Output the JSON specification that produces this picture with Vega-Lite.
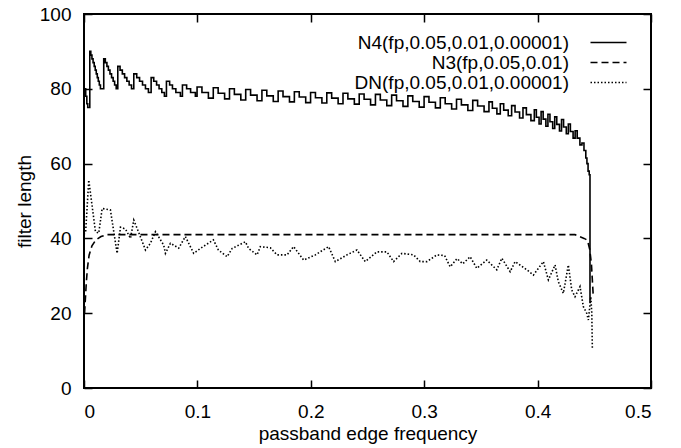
{
  "$schema": "https://vega.github.io/schema/vega-lite/v6.json",
  "width": 567,
  "height": 374,
  "autosize": {"type": "none"},
  "padding": {"left": 84, "top": 14, "right": 30, "bottom": 60},
  "background": "white",
  "config": {
    "font": "Liberation Sans",
    "view": {"stroke": "black", "strokeWidth": 2},
    "axis": {
      "grid": false,
      "domain": false,
      "tickColor": "black",
      "tickWidth": 1.5,
      "tickSize": -8,
      "labelColor": "black",
      "labelFont": "Liberation Sans",
      "labelFontSize": 19,
      "titleFont": "Liberation Sans",
      "titleFontSize": 19,
      "titleFontWeight": "normal",
      "titleColor": "black"
    },
    "legend": {
      "orient": "none",
      "legendX": 270,
      "legendY": 19,
      "padding": 0,
      "labelFont": "Liberation Sans",
      "labelFontSize": 19,
      "labelColor": "black",
      "labelAlign": "right",
      "labelLimit": 0,
      "labelOffset": -49,
      "symbolOffset": 245,
      "symbolType": "M-3.6,0H3.6",
      "symbolStrokeColor": "black",
      "symbolStrokeWidth": 1.5,
      "symbolSize": 100,
      "rowPadding": -0.5
    }
  },
  "datasets": {
    "n4": [
      {"fp":0,"len":80},{"fp":0.0015,"len":78},{"fp":0.0025,"len":76},{"fp":0.0033,"len":75},
      {"fp":0.0051,"len":90},{"fp":0.006,"len":89},{"fp":0.007,"len":88},{"fp":0.008,"len":87},{"fp":0.009,"len":86},{"fp":0.0099,"len":85},{"fp":0.0108,"len":84},{"fp":0.0117,"len":83},{"fp":0.0126,"len":82},{"fp":0.0135,"len":81},{"fp":0.0145,"len":80},
      {"fp":0.0174,"len":88},{"fp":0.0188,"len":87},{"fp":0.0202,"len":86},{"fp":0.0215,"len":85},{"fp":0.0229,"len":84},{"fp":0.0243,"len":83},{"fp":0.0257,"len":82},{"fp":0.027,"len":81},{"fp":0.0284,"len":80},
      {"fp":0.0298,"len":86},{"fp":0.0318,"len":85},{"fp":0.0338,"len":84},{"fp":0.0358,"len":83},{"fp":0.0378,"len":82},{"fp":0.0398,"len":81},{"fp":0.0419,"len":80},
      {"fp":0.0439,"len":84},{"fp":0.0465,"len":83},{"fp":0.049,"len":82},{"fp":0.0516,"len":81},{"fp":0.0542,"len":80},{"fp":0.0568,"len":79},
      {"fp":0.0592,"len":83},{"fp":0.0615,"len":82},{"fp":0.064,"len":81},{"fp":0.0662,"len":80},{"fp":0.0686,"len":79},{"fp":0.0709,"len":78},
      {"fp":0.0727,"len":82},{"fp":0.0755,"len":81},{"fp":0.078,"len":80},{"fp":0.081,"len":79},{"fp":0.085,"len":78},
      {"fp":0.0868,"len":81},{"fp":0.0905,"len":80},{"fp":0.094,"len":79},{"fp":0.0982,"len":78},
      {"fp":0.0997,"len":80.5},{"fp":0.104,"len":79},{"fp":0.1097,"len":77.5},
      {"fp":0.114,"len":80.3},{"fp":0.1183,"len":78.8},{"fp":0.124,"len":77.3},
      {"fp":0.1283,"len":80},{"fp":0.1326,"len":78.5},{"fp":0.1383,"len":77},
      {"fp":0.1426,"len":79.8},{"fp":0.1469,"len":78.3},{"fp":0.1526,"len":76.8},
      {"fp":0.1569,"len":79.6},{"fp":0.1612,"len":78.1},{"fp":0.1669,"len":76.6},
      {"fp":0.1712,"len":79.4},{"fp":0.1755,"len":77.9},{"fp":0.1812,"len":76.5},
      {"fp":0.1855,"len":79.2},{"fp":0.1898,"len":77.8},{"fp":0.1955,"len":76.3},
      {"fp":0.1998,"len":79},{"fp":0.2041,"len":77.6},{"fp":0.2098,"len":76.2},
      {"fp":0.2141,"len":78.9},{"fp":0.2184,"len":77.5},{"fp":0.2241,"len":76},
      {"fp":0.2284,"len":78.8},{"fp":0.2327,"len":77.3},{"fp":0.2384,"len":75.9},
      {"fp":0.2427,"len":78.6},{"fp":0.247,"len":77.2},{"fp":0.2527,"len":75.7},
      {"fp":0.257,"len":78.5},{"fp":0.2613,"len":77},{"fp":0.267,"len":75.5},
      {"fp":0.2713,"len":78.3},{"fp":0.2756,"len":76.8},{"fp":0.2813,"len":75.3},
      {"fp":0.2856,"len":78.1},{"fp":0.2899,"len":76.6},{"fp":0.2956,"len":75.1},
      {"fp":0.2999,"len":77.9},{"fp":0.3042,"len":76.4},{"fp":0.3099,"len":74.9},
      {"fp":0.3142,"len":77.6},{"fp":0.3185,"len":76},{"fp":0.3242,"len":74.6},
      {"fp":0.3285,"len":77.2},{"fp":0.3328,"len":75.7},{"fp":0.3385,"len":74.2},
      {"fp":0.3428,"len":76.9},{"fp":0.3471,"len":75.4},{"fp":0.3528,"len":73.9},
      {"fp":0.3571,"len":76.5},{"fp":0.3601,"len":74.8},{"fp":0.3641,"len":73.3},
      {"fp":0.3671,"len":76},{"fp":0.3701,"len":74.3},{"fp":0.3741,"len":72.8},
      {"fp":0.3771,"len":75.5},{"fp":0.3801,"len":73.8},{"fp":0.3841,"len":72.2},
      {"fp":0.3871,"len":74.9},{"fp":0.3901,"len":73.1},{"fp":0.3941,"len":71.5},
      {"fp":0.3971,"len":74.4},{"fp":0.3989,"len":72.4},{"fp":0.4013,"len":70.6},
      {"fp":0.4031,"len":73.9},{"fp":0.4049,"len":71.9},{"fp":0.4073,"len":70},
      {"fp":0.4091,"len":73.2},{"fp":0.4109,"len":71.2},{"fp":0.4133,"len":69.4},
      {"fp":0.4151,"len":72.5},{"fp":0.4169,"len":70.5},{"fp":0.4193,"len":68.7},
      {"fp":0.4211,"len":71.8},{"fp":0.4229,"len":69.8},{"fp":0.4253,"len":68},
      {"fp":0.4271,"len":70.6},{"fp":0.4289,"len":68.6},{"fp":0.4313,"len":66.8},
      {"fp":0.4331,"len":68.8},{"fp":0.4349,"len":66.8},{"fp":0.4373,"len":65},
      {"fp":0.4391,"len":65.5},{"fp":0.4409,"len":63.5},{"fp":0.4425,"len":61.5},
      {"fp":0.4435,"len":60},{"fp":0.4445,"len":58},{"fp":0.4455,"len":57},
      {"fp":0.4462,"len":23},{"fp":0.4466,"len":23}
    ],
    "n3": [
      {"fp":0.0005,"len":20},{"fp":0.002,"len":28},{"fp":0.003,"len":32},{"fp":0.0045,"len":35.5},
      {"fp":0.007,"len":38},{"fp":0.0105,"len":39.6},{"fp":0.015,"len":40.5},{"fp":0.02,"len":41},
      {"fp":0.433,"len":41},{"fp":0.437,"len":40.5},{"fp":0.441,"len":40},{"fp":0.444,"len":39.5},
      {"fp":0.446,"len":37},{"fp":0.4475,"len":33},{"fp":0.449,"len":25}
    ],
    "dn": [
      {"fp":0,"len":41},{"fp":0.0015,"len":42},{"fp":0.0042,"len":55.6},{"fp":0.0101,"len":41.8},
      {"fp":0.013,"len":41.4},{"fp":0.016,"len":48},{"fp":0.0233,"len":47.6},{"fp":0.0292,"len":36},
      {"fp":0.0322,"len":43},{"fp":0.0366,"len":42.5},{"fp":0.041,"len":40},{"fp":0.0439,"len":44.9},
      {"fp":0.048,"len":41.8},{"fp":0.0542,"len":36.9},{"fp":0.0586,"len":38.7},{"fp":0.063,"len":41.8},
      {"fp":0.0703,"len":38.2},{"fp":0.0718,"len":36},{"fp":0.0762,"len":38.7},{"fp":0.0835,"len":37.4},
      {"fp":0.0894,"len":40.5},{"fp":0.0967,"len":36},{"fp":0.1026,"len":37.3},{"fp":0.1141,"len":39.6},
      {"fp":0.1185,"len":36.9},{"fp":0.1262,"len":35.1},{"fp":0.1306,"len":37.3},{"fp":0.1423,"len":39.1},
      {"fp":0.1452,"len":37.3},{"fp":0.1526,"len":35.6},{"fp":0.1555,"len":37.8},{"fp":0.1643,"len":37.5},
      {"fp":0.1702,"len":35.6},{"fp":0.179,"len":35.6},{"fp":0.1848,"len":37.8},{"fp":0.1937,"len":34.2},
      {"fp":0.204,"len":35.6},{"fp":0.2157,"len":37.8},{"fp":0.2216,"len":33.8},{"fp":0.2319,"len":35.6},
      {"fp":0.2407,"len":36.9},{"fp":0.248,"len":33.8},{"fp":0.2583,"len":36.4},{"fp":0.2671,"len":36.4},
      {"fp":0.273,"len":33.8},{"fp":0.2804,"len":36},{"fp":0.2906,"len":35.6},{"fp":0.2965,"len":33.8},
      {"fp":0.3024,"len":33.8},{"fp":0.3112,"len":35.6},{"fp":0.318,"len":35.4},{"fp":0.3229,"len":32.4},
      {"fp":0.329,"len":34.6},{"fp":0.334,"len":33.2},{"fp":0.3405,"len":35.1},{"fp":0.3464,"len":32},
      {"fp":0.3552,"len":34.2},{"fp":0.364,"len":31.6},{"fp":0.3685,"len":34.7},{"fp":0.3758,"len":31.1},
      {"fp":0.3802,"len":33.8},{"fp":0.3905,"len":31.6},{"fp":0.3963,"len":30.2},{"fp":0.4051,"len":33.8},
      {"fp":0.4095,"len":28.9},{"fp":0.4154,"len":32.9},{"fp":0.4183,"len":28.4},{"fp":0.4227,"len":25.3},
      {"fp":0.4271,"len":32.9},{"fp":0.4301,"len":26.2},{"fp":0.433,"len":24.4},{"fp":0.4374,"len":27.1},
      {"fp":0.4404,"len":21.7},{"fp":0.4433,"len":20},{"fp":0.4448,"len":18.2},{"fp":0.4469,"len":24.4},
      {"fp":0.4478,"len":20},{"fp":0.4483,"len":10.2}
    ]
  },
  "layer": [
    {
      "data": {"name": "n4"},
      "mark": {"type": "line", "interpolate": "step-after", "color": "black", "strokeWidth": 1.6},
      "encoding": {
        "x": {"field": "fp", "type": "quantitative", "scale": {"domain": [0, 0.5], "nice": false},
          "axis": {"orient": "bottom", "values": [0, 0.1, 0.2, 0.3, 0.4, 0.5], "format": "~g", "title": "passband edge frequency", "labelPadding": 22, "titlePadding": 3}},
        "y": {"field": "len", "type": "quantitative", "scale": {"domain": [0, 100], "nice": false},
          "axis": {"orient": "left", "values": [0, 20, 40, 60, 80, 100], "title": "filter length", "labelPadding": 21, "titlePadding": 5}},
        "strokeDash": {"datum": "N4(fp,0.05,0.01,0.00001)", "type": "nominal",
          "scale": {"domain": ["N4(fp,0.05,0.01,0.00001)", "N3(fp,0.05,0.01)", "DN(fp,0.05,0.01,0.00001)"], "range": [[1, 0], [7, 4], [1.5, 2]]},
          "legend": {"title": null}}
      }
    },
    {
      "data": {"name": "n3"},
      "mark": {"type": "line", "color": "black", "strokeWidth": 1.6},
      "encoding": {
        "x": {"field": "fp", "type": "quantitative", "axis": {"orient": "top", "values": [0, 0.1, 0.2, 0.3, 0.4, 0.5], "labels": false, "title": null}},
        "y": {"field": "len", "type": "quantitative", "axis": {"orient": "right", "values": [0, 20, 40, 60, 80, 100], "labels": false, "title": null}},
        "strokeDash": {"datum": "N3(fp,0.05,0.01)", "type": "nominal", "legend": {"title": null}}
      }
    },
    {
      "data": {"name": "dn"},
      "mark": {"type": "line", "color": "black", "strokeWidth": 1.6},
      "encoding": {
        "x": {"field": "fp", "type": "quantitative", "axis": null},
        "y": {"field": "len", "type": "quantitative", "axis": null},
        "strokeDash": {"datum": "DN(fp,0.05,0.01,0.00001)", "type": "nominal", "legend": {"title": null}}
      }
    }
  ],
  "resolve": {"axis": {"x": "independent", "y": "independent"}}
}
